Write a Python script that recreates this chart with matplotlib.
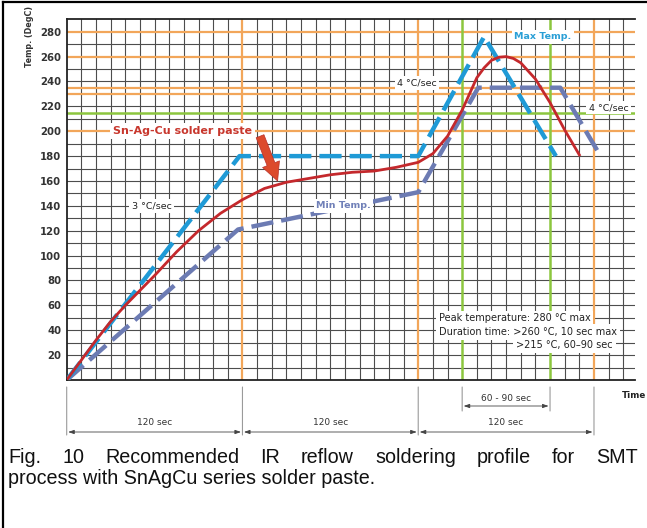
import matplotlib
matplotlib.use("Agg")
import matplotlib.pyplot as plt
import matplotlib.transforms as mtrans
import numpy as np

# ---------------- data ----------------
max_t = [0, 118, 240, 285, 334]
max_v = [0, 180, 180, 276, 180]

min_t = [0, 117, 240, 281, 337, 364]
min_v = [0, 121, 151, 235, 235, 181]

paste_t = [0, 10, 20, 30, 40, 50, 60, 75, 90, 105, 120, 135, 150, 165, 180, 195,
           210, 225, 240, 250, 260, 270, 280, 285, 290, 295, 300, 305, 310, 320, 330, 340, 350]
paste_v = [0, 16, 32, 47, 60, 72, 84, 103, 120, 134, 145, 154, 159, 162, 165, 167,
           168, 171, 175, 182, 196, 217, 243, 251, 257, 259.5, 260, 258.5, 255, 242, 223, 201, 181]

y_ticks = [20, 40, 60, 80, 100, 120, 140, 160, 180, 200, 220, 240, 260, 280]
orange_h = [280, 260, 235, 230, 200]
green_h = [215]
orange_v = [120, 240, 360]
green_v = [270, 330]

zone_edges = [0, 120, 240, 360]
zone_labels = ["120 sec", "120 sec", "120 sec"]
reflow_span = [270, 330]
reflow_label = "60 - 90 sec"

caption1 = "Fig. 10 Recommended IR reflow soldering profile for SMT"
caption2 = "process with SnAgCu series solder paste."

# ---------------- figure ----------------
W, H = 647, 528
fig = plt.figure(figsize=(W / 100, H / 100), dpi=100)
fig.patch.set_facecolor("white")

def fy(py):
    return 1 - py / H

def fx(px):
    return px / W

ax = fig.add_axes([fx(66.7), fy(380), fx(635) - fx(66.7), fy(19.3) - fy(380)])
ax.set_xlim(0, 388)
ax.set_ylim(0, 290)

GRID = "#4d4d4d"
ORANGE = "#f2a65a"
GREEN = "#8cc63e"
RED = "#c4282c"
BLUE = "#1f9ad6"
SLATE = "#6c7bb3"

for xv in np.arange(10, 388, 10):
    if xv in orange_v or xv in green_v:
        continue
    ax.axvline(xv, color=GRID, lw=0.8, zorder=1)
for yv in np.arange(10, 290, 10):
    if yv in orange_h:
        continue
    ax.axhline(yv, color=GRID, lw=0.8, zorder=1)
for yv in orange_h:
    ax.axhline(yv, color=ORANGE, lw=1.6, zorder=1.5)
for yv in green_h:
    ax.axhline(yv, color=GREEN, lw=1.8, zorder=1.5)
for xv in orange_v:
    ax.axvline(xv, color=ORANGE, lw=1.6, zorder=1.5)
for xv in green_v:
    ax.axvline(xv, color=GREEN, lw=1.8, zorder=1.5)

for s in ["left", "bottom", "top"]:
    ax.spines[s].set_color("#222222")
    ax.spines[s].set_linewidth(1.3)
ax.spines["right"].set_visible(False)

ax.set_xticks([])
ax.set_yticks(y_ticks)
ax.set_yticklabels([str(v) for v in y_ticks], fontsize=7.3, fontweight="bold", color="#333333")
ax.tick_params(axis="y", length=0, pad=4)

# curves
ax.plot(min_t, min_v, color=SLATE, lw=3.2, dashes=(5, 1.8), zorder=3)
ax.plot(max_t, max_v, color=BLUE, lw=3.2, dashes=(5, 1.8), zorder=3.2)
ax.plot(paste_t, paste_v, color=RED, lw=2.0, zorder=4)

box = dict(boxstyle="square,pad=0.25", fc="white", ec="none")
ax.text(325, 276, "Max Temp.", color="#2a9fd6", fontsize=6.8, fontweight="bold",
        ha="center", va="center", bbox=box, zorder=5)
ax.text(239, 239, "4 °C/sec", color="#222222", fontsize=6.8, ha="center", va="center",
        bbox=box, zorder=5)
ax.text(370, 219, "4 °C/sec", color="#222222", fontsize=6.8, ha="center", va="center",
        bbox=box, zorder=5)
ax.text(58, 140, "3 °C/sec", color="#222222", fontsize=6.8, ha="center", va="center",
        bbox=box, zorder=5)
ax.text(189, 140, "Min Temp.", color="#7080b8", fontsize=6.8, fontweight="bold",
        ha="center", va="center", bbox=box, zorder=5)
ax.text(79, 200, "Sn-Ag-Cu solder paste", color="#c8372d", fontsize=8, fontweight="bold",
        ha="center", va="center", bbox=box, zorder=5)
ax.annotate("", xy=(144, 160), xytext=(132, 196),
            arrowprops=dict(arrowstyle="simple,head_width=1.3,head_length=1.3,tail_width=0.6",
                            fc="#dc4a2c", ec="#b8302a", lw=0.5, shrinkA=0, shrinkB=0), zorder=6)

peak_lines = ["Peak temperature: 280 °C max",
              "Duration time: >260 °C, 10 sec max",
              ">215 °C, 60–90 sec"]
pbox = dict(boxstyle="square,pad=0.3", fc="white", ec="none")
ax.text(254, 49.5, peak_lines[0], fontsize=7, color="#222222", ha="left", va="center",
        bbox=pbox, zorder=5)
ax.text(375.5, 38.5, peak_lines[1], fontsize=7, color="#222222", ha="right", va="center",
        bbox=pbox, zorder=5)
ax.text(373, 28, peak_lines[2], fontsize=7, color="#222222", ha="right", va="center",
        bbox=pbox, zorder=5)

fig.text(fx(29.5), fy(36.5), "Temp. (DegC)", rotation=90, fontsize=5.8, fontweight="bold",
         color="#333333", ha="center", va="center")

# ---------------- dimension marks below axis ----------------
LG = "#9a9a9a"
bt = mtrans.blended_transform_factory(ax.transData, fig.transFigure)
xy_c = ("data", "figure fraction")
for xv in zone_edges:
    ax.annotate("", xy=(xv, fy(387)), xytext=(xv, fy(435)), xycoords=xy_c, textcoords=xy_c,
                arrowprops=dict(arrowstyle="-", color=LG, lw=0.8, shrinkA=0, shrinkB=0))
for xv in reflow_span:
    ax.annotate("", xy=(xv, fy(387)), xytext=(xv, fy(411)), xycoords=xy_c, textcoords=xy_c,
                arrowprops=dict(arrowstyle="-", color=LG, lw=0.8, shrinkA=0, shrinkB=0))
arrow_style = dict(arrowstyle="<|-|>,head_length=0.35,head_width=0.12",
                   color="#444444", lw=0.6, shrinkA=0, shrinkB=0)
for i, lab in enumerate(zone_labels):
    a, b = zone_edges[i], zone_edges[i + 1]
    ax.annotate("", xy=(a + 1, fy(432)), xytext=(b - 1, fy(432)),
                xycoords=xy_c, textcoords=xy_c, arrowprops=arrow_style)
    ax.text((a + b) / 2, fy(422.5), lab, transform=bt,
            fontsize=6.5, color="#333333", ha="center", va="center")
ax.annotate("", xy=(reflow_span[0] + 1, fy(406)), xytext=(reflow_span[1] - 1, fy(406)),
            xycoords=xy_c, textcoords=xy_c, arrowprops=arrow_style)
ax.text(sum(reflow_span) / 2, fy(398.5), reflow_label, transform=bt,
        fontsize=6.5, color="#333333", ha="center", va="center")
fig.text(fx(646), fy(396), "Time", fontsize=6.3, fontweight="bold", color="#222222",
         ha="right", va="center")

# ---------------- frame ----------------
fig.add_artist(plt.Line2D([fx(3), fx(3)], [0, fy(2)], color="black", lw=1.6))
fig.add_artist(plt.Line2D([fx(3), 1], [fy(2), fy(2)], color="black", lw=1.6))

# ---------------- justified caption ----------------
fig.canvas.draw()
r = fig.canvas.get_renderer()
cap_font = dict(family="Liberation Sans", fontsize=14.2, color="#111111", va="baseline")
words = caption1.split()
texts = [fig.text(0, fy(463), w, **cap_font) for w in words]
widths = [t.get_window_extent(r).width for t in texts]
left, right = 8.0, 638.0
gap = (right - left - sum(widths)) / (len(words) - 1)
x = left
for t, w in zip(texts, widths):
    t.set_x(fx(x))
    x += w + gap
fig.text(fx(8), fy(484), caption2, **cap_font)

fig.savefig("out.png", dpi=100, facecolor="white")
